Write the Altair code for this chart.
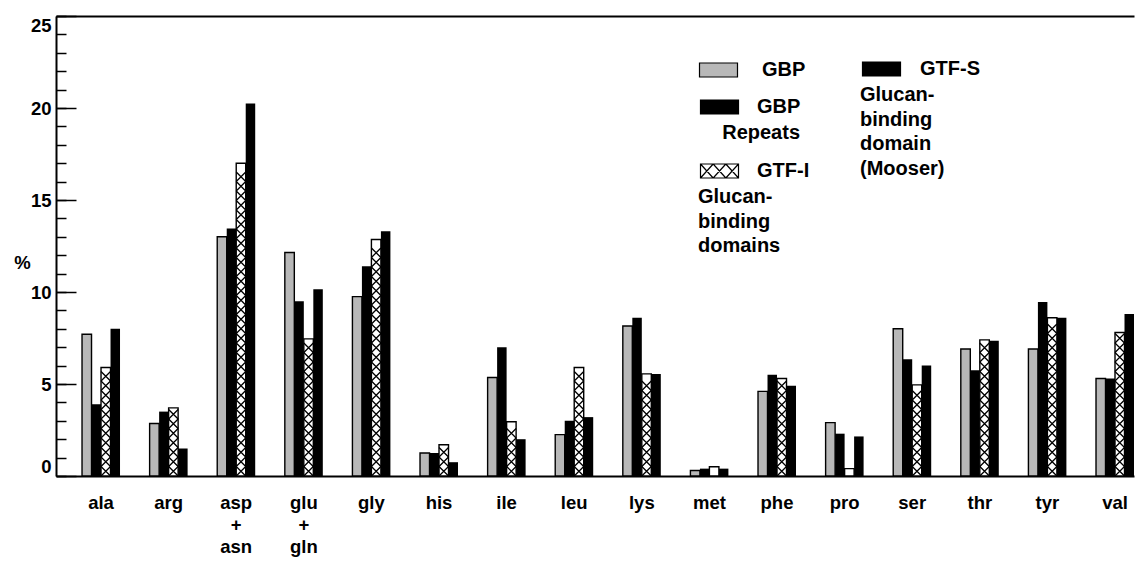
import altair as alt
import pandas as pd

categories = ["ala", "arg", "asp\n+\nasn", "glu\n+\ngln", "gly", "his", "ile", "leu",
              "lys", "met", "phe", "pro", "ser", "thr", "tyr", "val"]
series_names = ["GBP", "GBP Repeats", "GTF-I", "GTF-S"]
gbp = [7.7, 2.85, 13.0, 12.15, 9.75, 1.25, 5.35, 2.25, 8.15, 0.3, 4.6, 2.9, 8.0, 6.9, 6.9, 5.3]
gbp_repeats = [3.9, 3.5, 13.45, 9.5, 11.4, 1.25, 7.0, 3.0, 8.6, 0.4, 5.5, 2.3, 6.35, 5.75, 9.45, 5.3]
gtf_i = [5.9, 3.7, 17.0, 7.45, 12.85, 1.7, 2.95, 5.9, 5.55, 0.5, 5.3, 0.4, 4.95, 7.4, 8.6, 7.8]
gtf_s = [8.0, 1.5, 20.25, 10.15, 13.3, 0.75, 2.0, 3.2, 5.55, 0.4, 4.9, 2.15, 6.0, 7.35, 8.6, 8.8]
y_major = [0, 5, 10, 15, 20, 25]
y_minor = list(range(0, 26))

rows = []
for s, vals in zip(series_names, [gbp, gbp_repeats, gtf_i, gtf_s]):
    for c, v in zip(categories, vals):
        rows.append({"cat": c, "series": s, "value": v})
df = pd.DataFrame(rows)

W, H = 1078, 460
FONT = "Liberation Sans"
BAR_W = 9.5
HATCH = BAR_W / (H / 25.0)

RECT = "M-2.714,-1H2.714V1H-2.714Z"
HATCH_RECT = ("M-2.714,-1H2.714V1H-2.714Z"
              "M-2.714,-1L-0.905,1M-0.905,-1L-2.714,1"
              "M-0.905,-1L0.905,1M0.905,-1L-0.905,1"
              "M0.905,-1L2.714,1M2.714,-1L0.905,1")
XPATH = "M-1,-1L1,1M1,-1L-1,1"

x_scale = alt.Scale(domain=categories, paddingInner=0.438, paddingOuter=0.1925, align=1)
xo = alt.XOffset("series:N", scale=alt.Scale(domain=series_names, paddingInner=0, paddingOuter=0))
y_scale = alt.Scale(domain=[0, 25], nice=False)

base = alt.Chart(df)


def legend(x, y, label_offset, title=None, symbol=RECT, label=None, anchor="start"):
    kw = dict(orient="none", legendX=x, legendY=y, symbolType=symbol, symbolSize=196,
              symbolStrokeColor="black", symbolStrokeWidth=1.2, symbolOffset=11.5,
              labelFont=FONT, labelFontSize=20, labelFontWeight="bold", labelColor="black",
              labelOffset=label_offset, padding=0)
    if label is not None:
        kw["labelExpr"] = label
    if title is None:
        kw["title"] = None
    else:
        kw.update(title=title, titleOrient="bottom", titleAnchor=anchor,
                  titleAlign="left" if anchor == "start" else "right",
                  titleFont=FONT, titleFontSize=20, titleFontWeight="bold",
                  titleColor="black", titleLineHeight=24.5, titlePadding=6)
    return alt.Legend(**kw)


x_bottom = alt.Axis(orient="bottom", title=None, ticks=False, domain=True, domainColor="black",
                    domainWidth=2, labelExpr="split(datum.label, '\\n')", labelFont=FONT,
                    labelFontSize=18.5, labelFontWeight="bold", labelLineHeight=22,
                    labelPadding=17, labelAngle=0, labelColor="black")
x_top = alt.Axis(orient="top", title=None, ticks=False, labels=False, domain=True,
                 domainColor="black", domainWidth=2)
y_left = alt.Axis(orient="left", values=y_major, ticks=False, labelFlush=True, labelPadding=5,
                  labelFont=FONT, labelFontSize=18.5, labelFontWeight="bold", labelColor="black",
                  domain=True, domainColor="black", domainWidth=2, title="%", titleAngle=0,
                  titleX=-34, titleY=246, titleAlign="center", titleBaseline="middle",
                  titleFont=FONT, titleFontSize=18.5, titleFontWeight="bold", titleColor="black")
y_minor_ax = alt.Axis(orient="right", offset=-W, values=y_minor, tickSize=10, tickWidth=1.5,
                      tickColor="black", labels=False, domain=False, title=None)
y_major_ax = alt.Axis(orient="right", offset=-W, values=y_major, tickSize=20, tickWidth=1.5,
                      tickColor="black", labels=False, domain=False, title=None)

l1 = base.transform_filter(alt.datum.series == "GBP").mark_bar(
    stroke="black", strokeWidth=1.4).encode(
    x=alt.X("cat:N", scale=x_scale, axis=x_bottom),
    xOffset=xo,
    y=alt.Y("value:Q", scale=y_scale, axis=y_left),
    color=alt.Color("series:N", scale=alt.Scale(domain=["GBP"], range=["#b8b8b8"]),
                    legend=legend(641, 44, 33.5)),
)
l2 = base.transform_filter(alt.datum.series == "GBP Repeats").mark_bar(color="black").encode(
    x=alt.X("cat:N", scale=x_scale, axis=x_top),
    xOffset=xo,
    y=alt.Y("value:Q", scale=y_scale, axis=y_minor_ax),
    color=alt.Color("series:N", scale=alt.Scale(domain=["GBP Repeats"], range=["black"]),
                    legend=legend(642, 81, 27.5, title=["Repeats"], label="'GBP'",
                                  anchor="end")),
)
l3 = base.transform_filter(alt.datum.series == "GTF-I").mark_bar(
    stroke="black", strokeWidth=1.4).encode(
    x=alt.X("cat:N", scale=x_scale, axis=None),
    xOffset=xo,
    y=alt.Y("value:Q", scale=y_scale, axis=y_major_ax),
    color=alt.Color("series:N", scale=alt.Scale(domain=["GTF-I"], range=["white"]),
                    legend=legend(642, 145, 27.5, title=["Glucan-", "binding", "domains"],
                                  symbol=HATCH_RECT)),
)
l4 = base.transform_filter(alt.datum.series == "GTF-S").mark_bar(color="black").encode(
    x=alt.X("cat:N", scale=x_scale, axis=None),
    xOffset=xo,
    y=alt.Y("value:Q", scale=y_scale, axis=None),
    color=alt.Color("series:N", scale=alt.Scale(domain=["GTF-S"], range=["black"]),
                    legend=legend(804, 43, 28.5,
                                  title=["Glucan-", "binding", "domain", "(Mooser)"])),
)
hatch = base.transform_filter(alt.datum.series == "GTF-I").transform_calculate(
    pts=f"sequence({HATCH / 2}, datum.value - {HATCH / 2} + 0.001, {HATCH})"
).transform_flatten(["pts"]).mark_point(
    shape=XPATH, size=BAR_W * BAR_W, filled=False, stroke="black", strokeWidth=1.3, opacity=1
).encode(
    x=alt.X("cat:N", scale=x_scale, axis=None),
    xOffset=xo,
    y=alt.Y("pts:Q", scale=y_scale, axis=None),
)

chart = alt.layer(l1, l2, l3, l4, hatch).resolve_scale(
    color="independent"
).resolve_axis(
    x="independent", y="independent"
).properties(
    width=W, height=H,
    autosize=alt.AutoSizeParams(type="none"),
    padding={"left": 48, "top": 8, "right": 1, "bottom": 83},
).configure(font=FONT).configure_view(stroke=None).configure_axis(grid=False)

chart.save("out.html", embed_options={"renderer": "svg", "actions": False})
